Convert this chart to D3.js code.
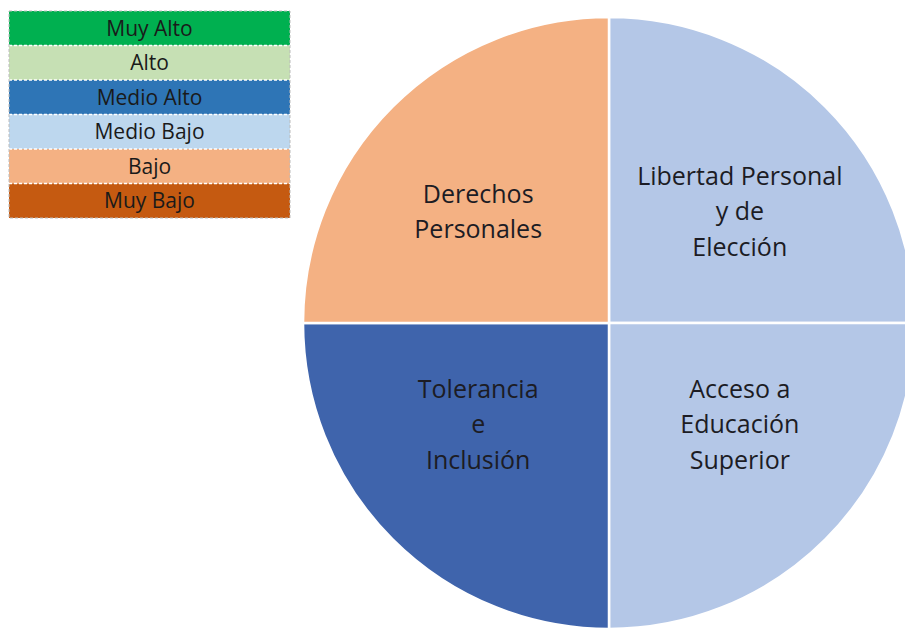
<!DOCTYPE html>
<html>
<head>
<meta charset="utf-8">
<script src="https://cdn.jsdelivr.net/npm/d3@7"></script>
<style>
  html, body { margin: 0; padding: 0; background: #fff; }
  svg { display: block; font-family: "Open Sans", "Noto Sans", sans-serif; }
</style>
</head>
<body>
<svg width="905" height="633"></svg>
<script>
// legend levels, top to bottom
var levels = ["Muy Alto", "Alto", "Medio Alto", "Medio Bajo", "Bajo", "Muy Bajo"];
var levelColors = ["#00B050", "#C6E0B4", "#2E75B6", "#BDD7EE", "#F4B183", "#C55A11"];

// pie slices, clockwise from 12 o'clock
var dimensions = [
  ["Libertad Personal", "y de", "Elección"],
  ["Acceso a", "Educación", "Superior"],
  ["Tolerancia", "e", "Inclusión"],
  ["Derechos", "Personales"]
];
var dimensionLevel = ["Medio Bajo", "Medio Bajo", "Medio Alto", "Bajo"];
var sliceColors = ["#B4C7E7", "#B4C7E7", "#3F64AC", "#F4B183"];
var sliceWeights = [1, 1, 1, 1];

var svg = d3.select("svg");

// legend
var legend = svg.append("g").attr("transform", "translate(9,11)");
var rowH = 34.5, legW = 281;
var ly = d3.scaleBand().domain(levels).range([0, rowH * levels.length]);

legend.selectAll("rect")
  .data(levels)
  .enter().append("rect")
    .attr("x", 0)
    .attr("y", function(d) { return ly(d); })
    .attr("width", legW)
    .attr("height", ly.bandwidth())
    .attr("fill", function(d, i) { return levelColors[i]; });

legend.selectAll("line.sep")
  .data(levels.slice(1))
  .enter().append("line")
    .attr("class", "sep")
    .attr("x1", 0).attr("x2", legW)
    .attr("y1", function(d) { return ly(d); })
    .attr("y2", function(d) { return ly(d); })
    .attr("stroke", "#fff")
    .attr("stroke-width", 1.5)
    .attr("stroke-dasharray", "3,2");

legend.append("rect")
  .attr("width", legW)
  .attr("height", rowH * levels.length)
  .attr("fill", "none")
  .attr("stroke", "#bbb")
  .attr("stroke-dasharray", "3,2");

legend.selectAll("text")
  .data(levels)
  .enter().append("text")
    .attr("x", legW / 2)
    .attr("y", function(d) { return ly(d) + ly.bandwidth() / 2; })
    .attr("dy", "0.35em")
    .attr("text-anchor", "middle")
    .attr("font-size", 21)
    .attr("fill", "#1a1a1a")
    .text(function(d) { return d; });

// pie
var cx = 609, cy = 323, r = 306;
var pie = d3.pie().sort(null).value(function(d) { return d; });
var arc = d3.arc().innerRadius(0).outerRadius(r);
var labelArc = d3.arc().innerRadius(r * 0.565).outerRadius(r * 0.565);

var g = svg.append("g").attr("transform", "translate(" + cx + "," + cy + ")");
var arcs = pie(sliceWeights);

g.selectAll("path")
  .data(arcs)
  .enter().append("path")
    .attr("d", arc)
    .attr("fill", function(d, i) { return sliceColors[i]; })
    .attr("stroke", "#fff")
    .attr("stroke-width", 2.5);

var lineH = 35.5;
var labels = g.selectAll("text.lab")
  .data(arcs)
  .enter().append("text")
    .attr("class", "lab")
    .attr("text-anchor", "middle")
    .attr("font-size", 25)
    .attr("fill", "#1c1c24")
    .attr("transform", function(d) {
      var c = labelArc.centroid(d);
      return "translate(" + (c[0] * 1.07) + "," + (c[1] * 0.87 - 5) + ")";
    });

labels.each(function(d, i) {
  var lines = dimensions[i];
  var t = d3.select(this);
  lines.forEach(function(l, k) {
    t.append("tspan")
      .attr("x", 0)
      .attr("y", (k - (lines.length - 1) / 2) * lineH)
      .attr("dy", "0.35em")
      .text(l);
  });
});
</script>
</body>
</html>
